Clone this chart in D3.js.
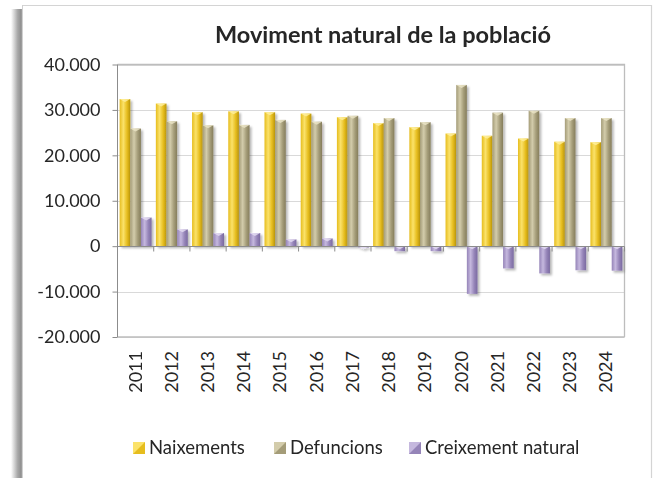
<!DOCTYPE html>
<html><head><meta charset="utf-8">
<script src="https://cdn.jsdelivr.net/npm/d3@7"></script>
<style>body{margin:0;background:#fff}svg{display:block}</style>
</head><body>
<svg id="c" width="661" height="478"></svg>
<script>
const title = "Moviment natural de la població";
const years = ["2011","2012","2013","2014","2015","2016","2017","2018","2019","2020","2021","2022","2023","2024"];
const seriesNames = ["Naixements","Defuncions","Creixement natural"];
const naixements = [32400,31400,29500,29700,29500,29200,28400,27100,26200,24800,24300,23700,23000,22900];
const defuncions = [25900,27500,26600,26700,27800,27400,28700,28200,27300,35500,29400,29800,28200,28200];
const creixement = [6300,3700,2900,2900,1500,1700,-300,-1100,-1100,-10500,-4900,-6000,-5300,-5400];
const yTicks = [-20000,-10000,0,10000,20000,30000,40000];
const yTickLabels = ["-20.000","-10.000","0","10.000","20.000","30.000","40.000"];

const FONT = "Lato, 'Open Sans', sans-serif";
const TXT = "#262626";
const svg = d3.select("#c");
const defs = svg.append("defs");

// frame
const fg = defs.append("linearGradient").attr("id","frameShadow").attr("x1","0").attr("x2","1");
fg.append("stop").attr("offset","0").attr("stop-color","#fff");
fg.append("stop").attr("offset","0.55").attr("stop-color","#a9a9a9");
fg.append("stop").attr("offset","0.85").attr("stop-color","#8e8e8e");
fg.append("stop").attr("offset","1").attr("stop-color","#e0e0e0");
svg.append("rect").attr("x",11).attr("y",9).attr("width",12).attr("height",478).attr("fill","url(#frameShadow)");
svg.append("path").attr("d","M22.5,5.5 H651.5 V478").attr("fill","none").attr("stroke","#d4d4d4").attr("stroke-width",1.2);
svg.append("line").attr("x1",22.5).attr("x2",22.5).attr("y1",5).attr("y2",478).attr("stroke","#d0d0d0");

// colors
const cols = [
  {l:"#e6bd1e", m:"#fbe26a", d:"#b8940c", top:"#fff0a0"},
  {l:"#a49c78", m:"#d3ccab", d:"#857d5c", top:"#ece6c8"},
  {l:"#9584b8", m:"#c5b8de", d:"#7a6aa0", top:"#e6def4"}
];
cols.forEach((c,i)=>{
  const g = defs.append("linearGradient").attr("id","bg"+i).attr("x1","0").attr("x2","1");
  g.append("stop").attr("offset","0").attr("stop-color",c.l);
  g.append("stop").attr("offset","0.35").attr("stop-color",c.m);
  g.append("stop").attr("offset","0.7").attr("stop-color",c.l);
  g.append("stop").attr("offset","1").attr("stop-color",c.d);
});
const sh = defs.append("filter").attr("id","shadow").attr("x","-50%").attr("y","-10%").attr("width","200%").attr("height","130%");
sh.append("feDropShadow").attr("dx",2).attr("dy",2).attr("stdDeviation",1.3).attr("flood-color","#000").attr("flood-opacity",0.28);

const L=117.5, R=624.5, T=64.5, B=337;
const y = d3.scaleLinear().domain([-20000,40000]).range([B,T]);
const x0 = d3.scaleBand().domain(years).range([L,R]).paddingInner(0).paddingOuter(0);
const x1 = d3.scaleBand().domain([0,1,2]).range([0,x0.bandwidth()]).paddingInner(0).paddingOuter(0.2);

// gridlines
svg.append("g").selectAll("line").data(yTicks).join("line")
  .attr("x1",L).attr("x2",R).attr("y1",d=>Math.round(y(d))+0.5).attr("y2",d=>Math.round(y(d))+0.5)
  .attr("stroke","#d9d9d9").attr("stroke-width",1);
// plot border
svg.append("path").attr("d",`M${L},${T} H${R} V${B}`).attr("fill","none").attr("stroke","#bdbdbd").attr("stroke-width",1.3);
svg.append("line").attr("x1",L).attr("x2",R).attr("y1",B).attr("y2",B).attr("stroke","#bdbdbd").attr("stroke-width",1.3);

// bars
const data = years.map((yr,i)=>({yr, vals:[naixements[i],defuncions[i],creixement[i]]}));
const gbars = svg.append("g").attr("filter","url(#shadow)");
const grp = gbars.selectAll("g").data(data).join("g").attr("transform",d=>`translate(${x0(d.yr)},0)`);
grp.selectAll("rect").data(d=>d.vals.map((v,k)=>({v,k}))).join("rect")
  .attr("x",d=>x1(d.k)).attr("width",x1.bandwidth())
  .attr("y",d=>y(Math.max(0,d.v))).attr("height",d=>Math.abs(y(d.v)-y(0)))
  .attr("fill",d=>`url(#bg${d.k})`);
// top caps
grp.selectAll("path.cap").data(d=>d.vals.map((v,k)=>({v,k}))).join("path").attr("class","cap")
  .attr("d",d=>{const x=x1(d.k), w=x1.bandwidth(), yy=y(Math.max(0,d.v)); return `M${x},${yy} L${x+w},${yy} L${x+w/2},${yy+3} Z`;})
  .attr("fill",d=>cols[d.k].top).attr("opacity",0.8);

// zero axis
const y0 = Math.round(y(0))+0.5;
svg.append("line").attr("x1",L).attr("x2",R).attr("y1",y0).attr("y2",y0).attr("stroke","#8c8c8c").attr("stroke-width",1);
// x ticks at boundaries
const bounds = years.map(v=>x0(v)).concat([R]);
svg.append("g").selectAll("line").data(bounds).join("line")
  .attr("x1",d=>d).attr("x2",d=>d).attr("y1",y0).attr("y2",y0+5).attr("stroke","#8c8c8c");

// y axis
const yAxis = d3.axisLeft(y).tickValues(yTicks).tickFormat((d,i)=>yTickLabels[i]).tickSize(5).tickPadding(5);
const ya = svg.append("g").attr("transform",`translate(${L},0)`).call(yAxis);
ya.select(".domain").attr("stroke","#8c8c8c").attr("d",`M0,${T}V${B}`);
ya.selectAll(".tick line").attr("stroke","#8c8c8c");
ya.selectAll("text").attr("font-family",FONT).attr("font-size",18).attr("fill",TXT).attr("x",-17);

// x labels
svg.append("g").selectAll("text").data(years).join("text")
  .attr("transform",d=>`translate(${x0(d)+x0.bandwidth()/2+6},351) rotate(-90)`)
  .attr("text-anchor","end").attr("font-family",FONT).attr("font-size",18).attr("fill",TXT).text(d=>d);

// title
svg.append("text").attr("x",383).attr("y",43).attr("text-anchor","middle")
  .attr("font-family",FONT).attr("font-weight","bold").attr("font-size",23.5).attr("fill",TXT).text(title);

// legend
const lx = [133,274,409];
const lg = svg.append("g");
seriesNames.forEach((n,i)=>{
  lg.append("rect").attr("x",lx[i]).attr("y",442).attr("width",12).attr("height",12).attr("fill",cols[i].m);
  lg.append("path").attr("d",`M${lx[i]},454 L${lx[i]+12},442 L${lx[i]+12},454 Z`).attr("fill",cols[i].l);
  lg.append("text").attr("x",lx[i]+16).attr("y",454).attr("font-family",FONT).attr("font-size",18.5).attr("fill",TXT).text(n);
});
</script>
</body></html>
